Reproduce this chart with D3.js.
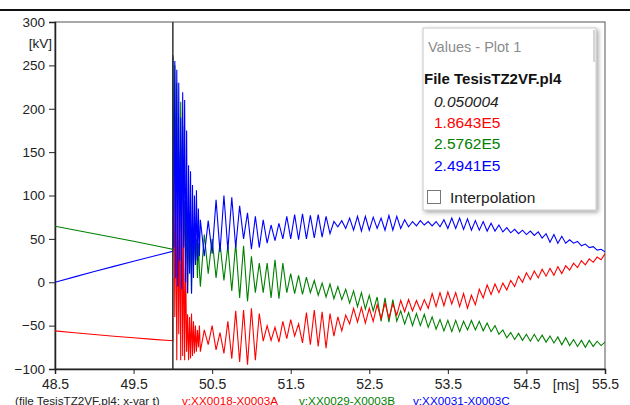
<!DOCTYPE html>
<meta charset="utf-8">
<html>
<head>
<script src="https://d3js.org/d3.v7.min.js"></script>
<style>
  body { margin: 0; background: #fff; }
  svg { display: block; }
  text { font-family: "Liberation Sans", Arial, sans-serif; }
</style>
</head>
<body>
<script>

// ---- data (kV vs ms) ----
// before the fault: smooth 60 Hz
const tPre = [48.5, 48.75, 49.0, 49.25, 49.5, 49.75, 50.0];
const redPre = [-56, -58.2, -60.2, -62.2, -64, -65.8, -67.4];
const greenPre = [64.5, 60.3, 56, 51.6, 47.2, 42.7, 38];
const bluePre = [0, 6.2, 12.3, 18.3, 24.2, 30, 35.7];

// first 0.35 ms after closing, sampled every 0.0125 ms
const burstStart = 50.0, burstStep = 0.0125;
const redBurst = [60, 144, -40, 120, -90, 121, -60, 90, -90, 118, -85, 60, -90, 30,
  -80, -37, -90, -40, -88, -36, -85, -45, -82, -50, -80, -55, -75, -50];
const greenBurst = [262, 80, 250, 120, 230, 100, 150, 60, 208, 90, 180, 40, 94, 20,
  75, -13, 71, 10, 60, -13, 65, 18, 56, 25, 50, 5, 45, 15];
const blueBurst = [260, 40, 255, 5, 245, -5, 230, 25, 190, -8, 219, 40, 210, 0,
  175, -12, 135, 10, 128, -13, 112, 5, 100, 20, 106, 25, 85, 30];

// rest of the window, sampled every 0.05 ms (peaks / troughs)
const mainStart = 50.35, mainStep = 0.05;
const redMain = [-80, -55, -72, -50, -78, -58, -82, -45, -88, -33,
  -92, -32, -95, -30, -90, -36, -68, -50, -67, -52,
  -69, -45, -65, -43, -62, -48, -70, -35, -72, -32,
  -74, -34, -76, -36, -62, -40, -56, -38, -48, -30,
  -46, -29, -47, -30, -45, -26, -42, -24, -41, -25,
  -38, -21, -34, -20, -33, -21, -32, -20, -30, -13,
  -28, -12, -27, -11, -25, -12, -28, -13, -30, -15,
  -26, -8, -18, -3, -14, -2, -12, -1, -9, 2,
  -5, 7, 0, 11, 3, 13, 5, 15, 7, 16,
  8, 18, 10, 19, 14, 22, 17, 25, 20, 27,
  23, 29, 26, 33];
const greenMain = [-5, 55, 10, 50, 5, 45, 2, 42, -10, 45,
  -18, 42, -22, 30, -12, 22, -12, 22, -18, 26,
  -19, 22, -12, 10, -13, 8, -14, 6, -12, 2,
  -15, -1, -17, -2, -19, -5, -20, -8, -24, -10,
  -28, -12, -31, -15, -33, -17, -45, -18, -46, -20,
  -45, -33, -48, -35, -50, -36, -50, -37, -52, -40,
  -54, -43, -56, -44, -57, -44, -57, -45, -55, -44,
  -55, -45, -56, -47, -57, -50, -60, -55, -64, -58,
  -66, -59, -67, -60, -68, -60, -68, -61, -69, -62,
  -70, -63, -72, -64, -73, -66, -74, -67, -75, -67,
  -74, -68, -73, -69];
const blueMain = [72, 30, 71, 33, 95, 35, 100, 37, 98, 40,
  88, 50, 80, 38, 76, 40, 72, 45, 66, 48,
  68, 50, 76, 50, 78, 49, 79, 50, 77, 51,
  78, 52, 76, 56, 70, 64, 71, 62, 74, 60,
  76, 59, 76, 60, 75, 62, 74, 60, 77, 60,
  76, 62, 72, 64, 70, 65, 71, 66, 70, 65,
  70, 64, 72, 62, 74, 62, 74, 61, 73, 60,
  71, 60, 70, 59, 68, 59, 66, 58, 63, 57,
  61, 56, 60, 55, 59, 54, 58, 51, 56, 46,
  55, 45, 53, 45, 49, 45, 47, 42, 44, 40,
  41, 37, 38, 35];

const seriesNames = ["v:XX0018-X0003A", "v:XX0029-X0003B", "v:XX0031-X0003C"];
const seriesColors = ["#ff0000", "#008000", "#0000ff"];
const cursorMs = 50.0;
const cursorLabel = "0.050004";
const cursorValues = ["1.8643E5", "2.5762E5", "2.4941E5"];
const xTicks = [48.5, 49.5, 50.5, 51.5, 52.5, 53.5, 54.5, 55.5];
const yTicks = [-100, -50, 0, 50, 100, 150, 200, 250, 300];

// ---- build ----
function buildSeries(pre, burst, main) {
  const pts = pre.map((v, i) => [tPre[i], v]);
  burst.forEach((v, k) => pts.push([burstStart + k * burstStep, v]));
  main.forEach((v, j) => pts.push([mainStart + j * mainStep, v]));
  return pts;
}
const series = [
  buildSeries(redPre, redBurst, redMain),
  buildSeries(greenPre, greenBurst, greenMain),
  buildSeries(bluePre, blueBurst, blueMain)
];

const W = 630, H = 405;
const pL = 55, pR = 605, pT = 22, pB = 369;

const svg = d3.select("body").append("svg")
  .attr("width", W).attr("height", H);

const defs = svg.append("defs");
defs.append("clipPath").attr("id", "plotclip")
  .append("rect").attr("x", pL).attr("y", pT)
  .attr("width", pR - pL).attr("height", pB - pT);
const sh = defs.append("filter").attr("id", "shadow")
  .attr("x", "-10%").attr("y", "-10%").attr("width", "130%").attr("height", "130%");
sh.append("feDropShadow").attr("dx", 2).attr("dy", 2)
  .attr("stdDeviation", 2).attr("flood-color", "#000").attr("flood-opacity", 0.35);

const x = d3.scaleLinear().domain([48.5, 55.5]).range([pL, pR]);
const y = d3.scaleLinear().domain([-100, 300]).range([pB, pT]);

// top separator line of the window
svg.append("line").attr("x1", 0).attr("x2", W).attr("y1", 10).attr("y2", 10)
  .attr("stroke", "#111").attr("stroke-width", 2);

// frame
svg.append("rect").attr("x", pL).attr("y", pT)
  .attr("width", pR - pL).attr("height", pB - pT)
  .attr("fill", "none").attr("stroke", "#555").attr("stroke-width", 1);

// y axis
const yAxis = svg.append("g").attr("transform", `translate(${pL},0)`)
  .call(d3.axisLeft(y).tickValues(yTicks).tickSize(6).tickPadding(4));
yAxis.select(".domain").attr("stroke", "#222").attr("stroke-width", 1.5);
yAxis.selectAll(".tick line").attr("stroke", "#222");
yAxis.selectAll("text").attr("fill", "#222").style("font-size", "13.5px")
  .style("font-family", "'Liberation Sans', Arial, sans-serif");

svg.append("text").attr("x", 52).attr("y", 48).attr("text-anchor", "end")
  .attr("fill", "#222").style("font-size", "13.5px").text("[kV]");

// x axis
const xAxis = svg.append("g").attr("transform", `translate(0,${pB})`)
  .call(d3.axisBottom(x).tickValues(xTicks).tickSize(5).tickPadding(5)
    .tickFormat(d3.format(".1f")));
xAxis.select(".domain").attr("stroke", "#222").attr("stroke-width", 1.5);
xAxis.selectAll(".tick line").attr("stroke", "#222");
xAxis.selectAll("text").attr("fill", "#222").style("font-size", "14px")
  .style("font-family", "'Liberation Sans', Arial, sans-serif");

svg.append("text").attr("x", 566).attr("y", 390).attr("text-anchor", "middle")
  .attr("fill", "#222").style("font-size", "14px").text("[ms]");

// traces (green, red, blue on top)
const line = d3.line().x(d => x(d[0])).y(d => y(d[1]));
const traces = svg.append("g").attr("clip-path", "url(#plotclip)");
[1, 0, 2].forEach(i => {
  traces.append("path").datum(series[i])
    .attr("d", line)
    .attr("fill", "none")
    .attr("stroke", seriesColors[i])
    .attr("stroke-width", 1.1)
    .attr("stroke-linejoin", "miter");
});

// cursor
svg.append("line")
  .attr("x1", x(cursorMs)).attr("x2", x(cursorMs))
  .attr("y1", pT).attr("y2", pB)
  .attr("stroke", "#333").attr("stroke-width", 1.5);

// bottom caption
const cap = svg.append("g").style("font-size", "11.7px");
cap.append("text").attr("x", 15).attr("y", 405).attr("fill", "#222")
  .text("(file TesisTZ2VF.pl4; x-var t)");
const capX = [182, 299, 413];
seriesNames.forEach((n, i) => {
  cap.append("text").attr("x", capX[i]).attr("y", 405)
    .attr("fill", seriesColors[i]).text(n);
});

// values box
const bx = 423, by = 28, bw = 173, bh = 182;
const box = svg.append("g");
box.append("rect").attr("x", bx).attr("y", by).attr("width", bw).attr("height", bh)
  .attr("fill", "#fff").attr("stroke", "#c8c8c8").attr("stroke-width", 1)
  .attr("filter", "url(#shadow)");
box.append("rect").attr("x", bx + bw - 3).attr("y", by + 2).attr("width", 2).attr("height", 32)
  .attr("fill", "#d4d4d4");
box.append("text").attr("x", 428).attr("y", 52).attr("fill", "#8c8c8c")
  .style("font-size", "14.5px").text("Values - Plot 1");
box.append("text").attr("x", 424).attr("y", 84).attr("fill", "#111")
  .style("font-size", "15px").style("font-weight", "bold").text("File TesisTZ2VF.pl4");
box.append("text").attr("x", 434).attr("y", 107).attr("fill", "#222")
  .style("font-size", "15.5px").style("font-style", "italic").text(cursorLabel);
cursorValues.forEach((v, i) => {
  box.append("text").attr("x", 434).attr("y", 128 + i * 21.3)
    .attr("fill", seriesColors[i]).style("font-size", "15.5px").text(v);
});
box.append("rect").attr("x", 427.5).attr("y", 190.5).attr("width", 13).attr("height", 13)
  .attr("fill", "#fff").attr("stroke", "#777").attr("stroke-width", 1);
box.append("text").attr("x", 450).attr("y", 203).attr("fill", "#222")
  .style("font-size", "15.5px").text("Interpolation");

</script>
</body>
</html>
